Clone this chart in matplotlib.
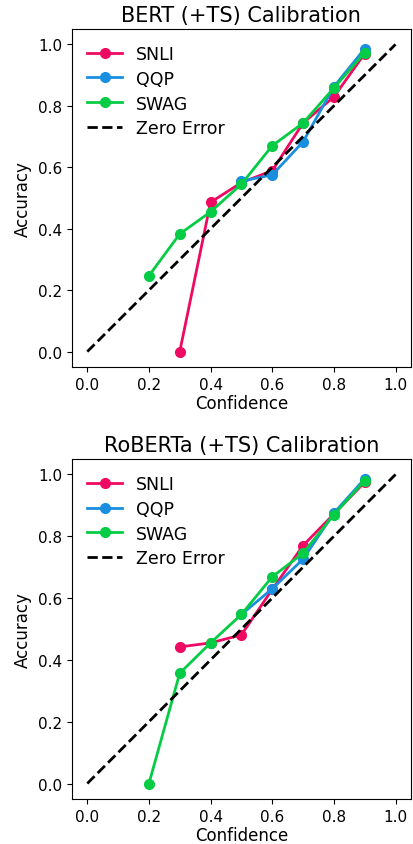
import matplotlib
matplotlib.use("Agg")
import matplotlib.pyplot as plt

titles = ["BERT (+TS) Calibration", "RoBERTa (+TS) Calibration"]

# BERT
bert_snli_x = [0.3, 0.4, 0.5, 0.6, 0.7, 0.8, 0.9]
bert_snli_y = [0.0, 0.486, 0.55, 0.589, 0.744, 0.829, 0.97]
bert_qqp_x = [0.5, 0.6, 0.7, 0.8, 0.9]
bert_qqp_y = [0.555, 0.575, 0.683, 0.862, 0.986]
bert_swag_x = [0.2, 0.3, 0.4, 0.5, 0.6, 0.7, 0.8, 0.9]
bert_swag_y = [0.247, 0.383, 0.455, 0.545, 0.67, 0.744, 0.858, 0.973]

# RoBERTa
rob_snli_x = [0.3, 0.4, 0.5, 0.6, 0.7, 0.8, 0.9]
rob_snli_y = [0.442, 0.455, 0.481, 0.628, 0.770, 0.872, 0.975]
rob_qqp_x = [0.5, 0.6, 0.7, 0.8, 0.9]
rob_qqp_y = [0.547, 0.63, 0.726, 0.875, 0.986]
rob_swag_x = [0.2, 0.3, 0.4, 0.5, 0.6, 0.7, 0.8, 0.9]
rob_swag_y = [0.0, 0.357, 0.455, 0.547, 0.669, 0.745, 0.87, 0.98]

zero_x = [0.0, 1.0]
zero_y = [0.0, 1.0]

colors = {"SNLI": "#EE0A62", "QQP": "#1A8FE0", "SWAG": "#05CC45"}

datasets = [
    [("SNLI", bert_snli_x, bert_snli_y), ("QQP", bert_qqp_x, bert_qqp_y), ("SWAG", bert_swag_x, bert_swag_y)],
    [("SNLI", rob_snli_x, rob_snli_y), ("QQP", rob_qqp_x, rob_qqp_y), ("SWAG", rob_swag_x, rob_swag_y)],
]

fig = plt.figure(figsize=(4.13, 8.45), dpi=100)
left, right = 0.174, 0.995
boxes = [(0.5645, 0.9645), (0.0533, 0.4556)]

for i, (bot, top) in enumerate(boxes):
    ax = fig.add_axes([left, bot, right - left, top - bot])
    for name, xs, ys in datasets[i]:
        ax.plot(xs, ys, color=colors[name], marker="o", lw=2, ms=7, label=name)
    ax.plot(zero_x, zero_y, color="black", ls="--", lw=2, label="Zero Error")
    ax.set_title(titles[i], fontsize=15)
    ax.set_xlabel("Confidence", fontsize=12, labelpad=2)
    ax.set_ylabel("Accuracy", fontsize=12)
    ax.set_xticks([0.0, 0.2, 0.4, 0.6, 0.8, 1.0])
    ax.set_yticks([0.0, 0.2, 0.4, 0.6, 0.8, 1.0])
    ax.tick_params(labelsize=11)
    ax.legend(loc="upper left", fontsize=12.5, frameon=False, labelspacing=0.4)

fig.savefig("out.png", dpi=100)
